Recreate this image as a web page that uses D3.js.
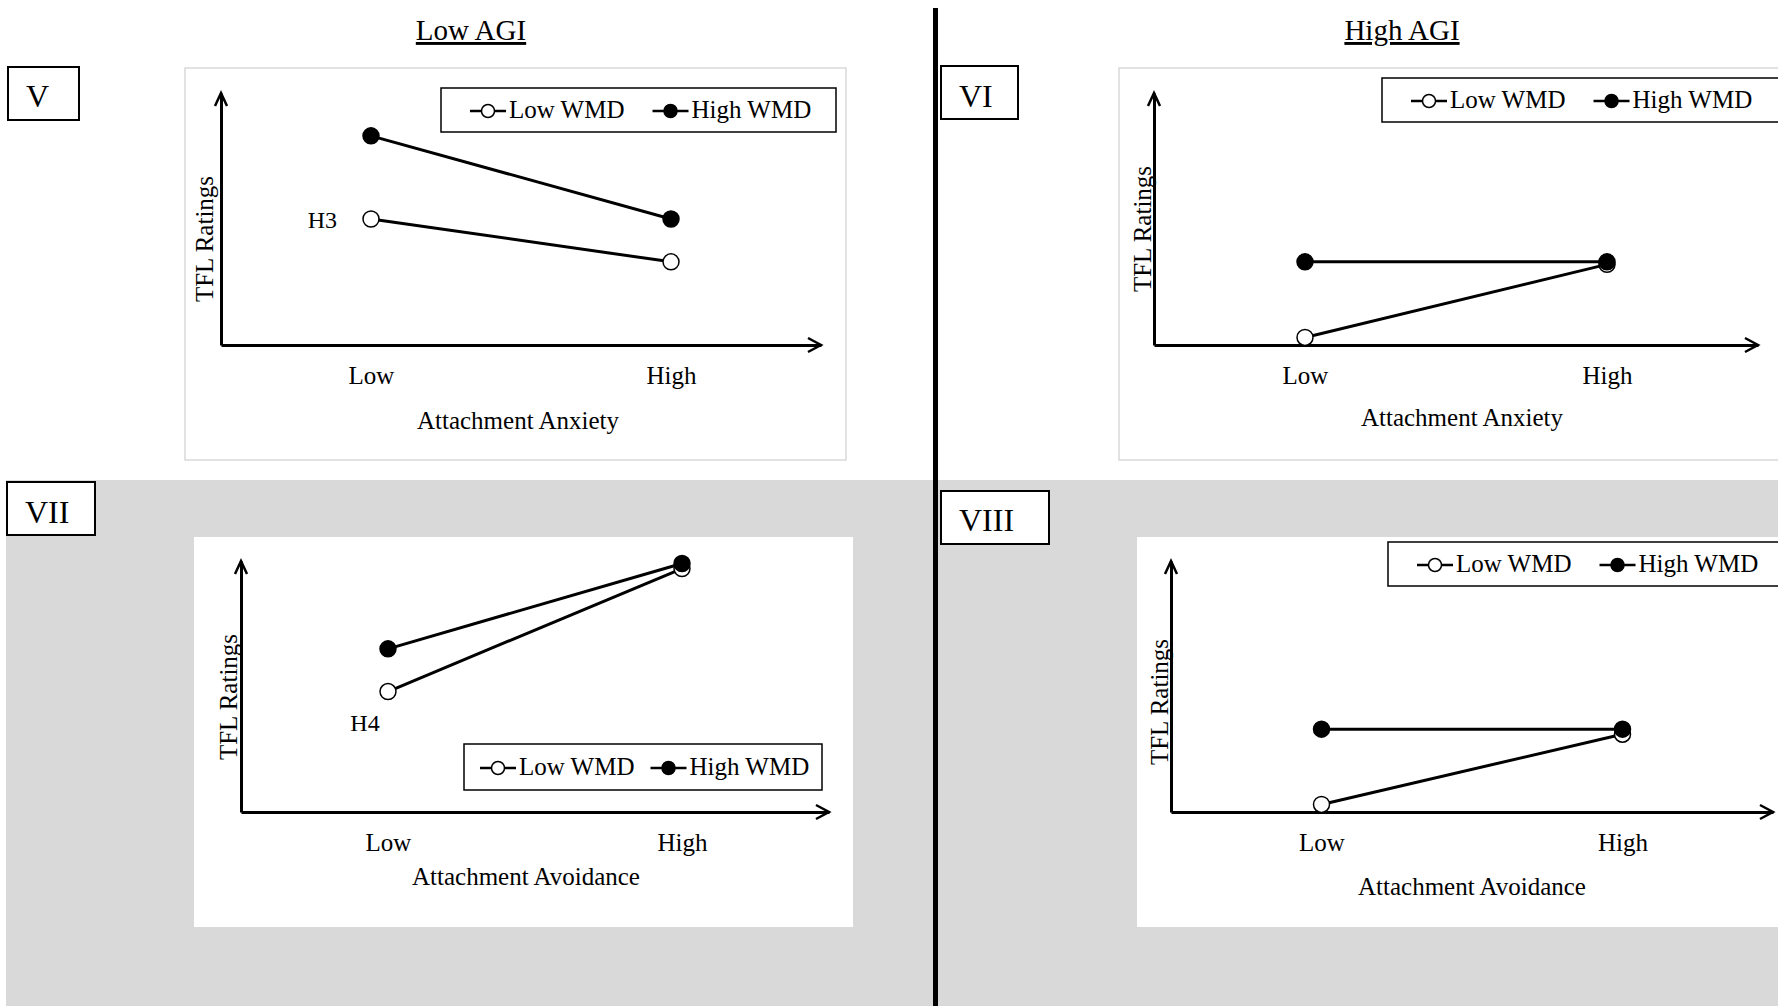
<!DOCTYPE html>
<html>
<head>
<meta charset="utf-8">
<script src="https://cdn.jsdelivr.net/npm/d3@7"></script>
<style>
body { margin: 0; background: #fff; }
svg text { font-family: "Liberation Serif", "Times New Roman", serif; fill: #000; }
</style>
</head>
<body>
<svg id="chart" width="1778" height="1006"></svg>
<script>
// values, y in relative units (0 = x axis, 100 = tip of the y arrow)
const levels = ["Low", "High"];
const seriesNames = ["Low WMD", "High WMD"];
const panelNames = ["V", "VI", "VII", "VIII"];
const groupTitles = ["Low AGI", "High AGI"];
const xTitles = ["Attachment Anxiety", "Attachment Anxiety", "Attachment Avoidance", "Attachment Avoidance"];
const yTitle = "TFL Ratings";
const lowWMD = [[50, 33], [3, 32], [48, 97], [3, 31]];
const highWMD = [[83, 50], [33, 33], [65, 99], [33, 33]];
const hypLabels = ["H3", null, "H4", null];

// where each panel sits on the page
const layout = [
    {frame: [185, 68, 661, 392], border: true, x: [221, 821], y: [345, 93], legend: [441, 88, 395, 44], legPad: 68, legGap: 67,
     box: [8, 67, 71, 53], boxBase: 107, titleX: 518, titleBase: 429, yLabX: 213, yLabY: 239, hyp: [337, 228, "end"]},
    {frame: [1119, 68, 700, 392], border: true, x: [1154, 1758], y: [345, 93], legend: [1382, 78, 420, 44], legPad: 68, legGap: 67,
     box: [941, 66, 77, 53], boxBase: 107, titleX: 1462, titleBase: 426, yLabX: 1151, yLabY: 229},
    {frame: [194, 537, 659, 390], border: false, x: [241, 829], y: [812, 561], legend: [464, 744, 358, 46], legPad: 55, legGap: 55,
     box: [7, 482, 88, 53], boxBase: 523, titleX: 526, titleBase: 885, yLabX: 237, yLabY: 697, hyp: [365, 731, "middle"]},
    {frame: [1137, 537, 700, 390], border: false, x: [1171, 1773], y: [812, 561], legend: [1388, 542, 420, 44], legPad: 68, legGap: 67,
     box: [941, 491, 108, 53], boxBase: 531, titleX: 1472, titleBase: 895, yLabX: 1168, yLabY: 702}
];

const svg = d3.select("#chart");

// gray band behind the bottom row
svg.append("rect").attr("x", 6).attr("y", 480).attr("width", 1772).attr("height", 526).attr("fill", "#d9d9d9");

// group titles
[471, 1402].forEach((cx, i) => {
    svg.append("text").attr("x", cx).attr("y", 40)
        .attr("text-anchor", "middle").style("font-size", "29px")
        .style("text-decoration", "underline")
        .text(groupTitles[i]);
});

layout.forEach((L, i) => {
    const g = svg.append("g");

    g.append("rect")
        .attr("x", L.frame[0]).attr("y", L.frame[1])
        .attr("width", L.frame[2]).attr("height", L.frame[3])
        .attr("fill", "#fff")
        .attr("stroke", L.border ? "#d9d9d9" : "none")
        .attr("stroke-width", 1.5);

    // panel number box
    g.append("rect")
        .attr("x", L.box[0]).attr("y", L.box[1])
        .attr("width", L.box[2]).attr("height", L.box[3])
        .attr("fill", "#fff").attr("stroke", "#000").attr("stroke-width", 2);
    g.append("text")
        .attr("x", L.box[0] + 18).attr("y", L.boxBase)
        .style("font-size", "32px")
        .text(panelNames[i]);

    const x = d3.scalePoint().domain(levels).range(L.x).padding(0.5);
    const y = d3.scaleLinear().domain([0, 100]).range(L.y);

    // axes
    const xAxis = g.append("g")
        .attr("transform", `translate(0,${L.y[0]})`)
        .call(d3.axisBottom(x).tickSize(0).tickSizeOuter(0).tickPadding(21));
    xAxis.select(".domain").attr("stroke-width", 3);
    xAxis.selectAll("text")
        .style("font-family", '"Liberation Serif", "Times New Roman", serif')
        .style("font-size", "25px").attr("fill", "#000");

    const yAxis = g.append("g")
        .attr("transform", `translate(${L.x[0]},0)`)
        .call(d3.axisLeft(y).ticks(0).tickSizeOuter(0));
    yAxis.select(".domain").attr("stroke-width", 3);

    // open arrow heads
    g.append("path")
        .attr("d", `M${L.x[1] - 13},${L.y[0] - 7}L${L.x[1]},${L.y[0]}L${L.x[1] - 13},${L.y[0] + 7}`)
        .attr("fill", "none").attr("stroke", "#000").attr("stroke-width", 2.5);
    g.append("path")
        .attr("d", `M${L.x[0] - 6},${L.y[1] + 13}L${L.x[0]},${L.y[1]}L${L.x[0] + 6},${L.y[1] + 13}`)
        .attr("fill", "none").attr("stroke", "#000").attr("stroke-width", 2.5);

    // axis titles
    g.append("text")
        .attr("x", L.titleX).attr("y", L.titleBase)
        .attr("text-anchor", "middle").style("font-size", "25px")
        .text(xTitles[i]);
    g.append("text")
        .attr("transform", `translate(${L.yLabX},${L.yLabY}) rotate(-90)`)
        .attr("text-anchor", "middle").style("font-size", "25px")
        .text(yTitle);

    // series: low WMD first so the filled markers sit on top
    const series = [
        {name: seriesNames[0], values: lowWMD[i], fill: "#fff"},
        {name: seriesNames[1], values: highWMD[i], fill: "#000"}
    ];
    const line = d3.line().x((d, j) => x(levels[j])).y(d => y(d));

    series.forEach(s => {
        g.append("path")
            .attr("d", line(s.values))
            .attr("fill", "none").attr("stroke", "#000").attr("stroke-width", 3);
        g.selectAll(null).data(s.values).enter()
            .append("circle")
            .attr("cx", (d, j) => x(levels[j]))
            .attr("cy", d => y(d))
            .attr("r", 8)
            .attr("fill", s.fill).attr("stroke", "#000").attr("stroke-width", 1.5);
    });

    if (hypLabels[i]) {
        g.append("text")
            .attr("x", L.hyp[0]).attr("y", L.hyp[1])
            .attr("text-anchor", L.hyp[2]).style("font-size", "24px")
            .text(hypLabels[i]);
    }

    // legend
    const lg = g.append("g");
    lg.append("rect")
        .attr("x", L.legend[0]).attr("y", L.legend[1])
        .attr("width", L.legend[2]).attr("height", L.legend[3])
        .attr("fill", "#fff").attr("stroke", "#000").attr("stroke-width", 1.5);
    const midY = L.legend[1] + L.legend[3] / 2;
    let tx = L.legend[0] + L.legPad;
    series.forEach(s => {
        const cx = tx - 21;
        lg.append("line")
            .attr("x1", cx - 18).attr("x2", cx + 18)
            .attr("y1", midY + 1).attr("y2", midY + 1)
            .attr("stroke", "#000").attr("stroke-width", 2.5);
        lg.append("circle")
            .attr("cx", cx).attr("cy", midY + 1).attr("r", 6.5)
            .attr("fill", s.fill).attr("stroke", "#000").attr("stroke-width", 1.5);
        const t = lg.append("text")
            .attr("x", tx).attr("y", midY + 8)
            .style("font-size", "25px")
            .text(s.name);
        tx += t.node().getComputedTextLength() + L.legGap;
    });
});

// vertical divider between the two columns
svg.append("rect").attr("x", 933).attr("y", 8).attr("width", 5).attr("height", 998).attr("fill", "#000");
</script>
</body>
</html>
